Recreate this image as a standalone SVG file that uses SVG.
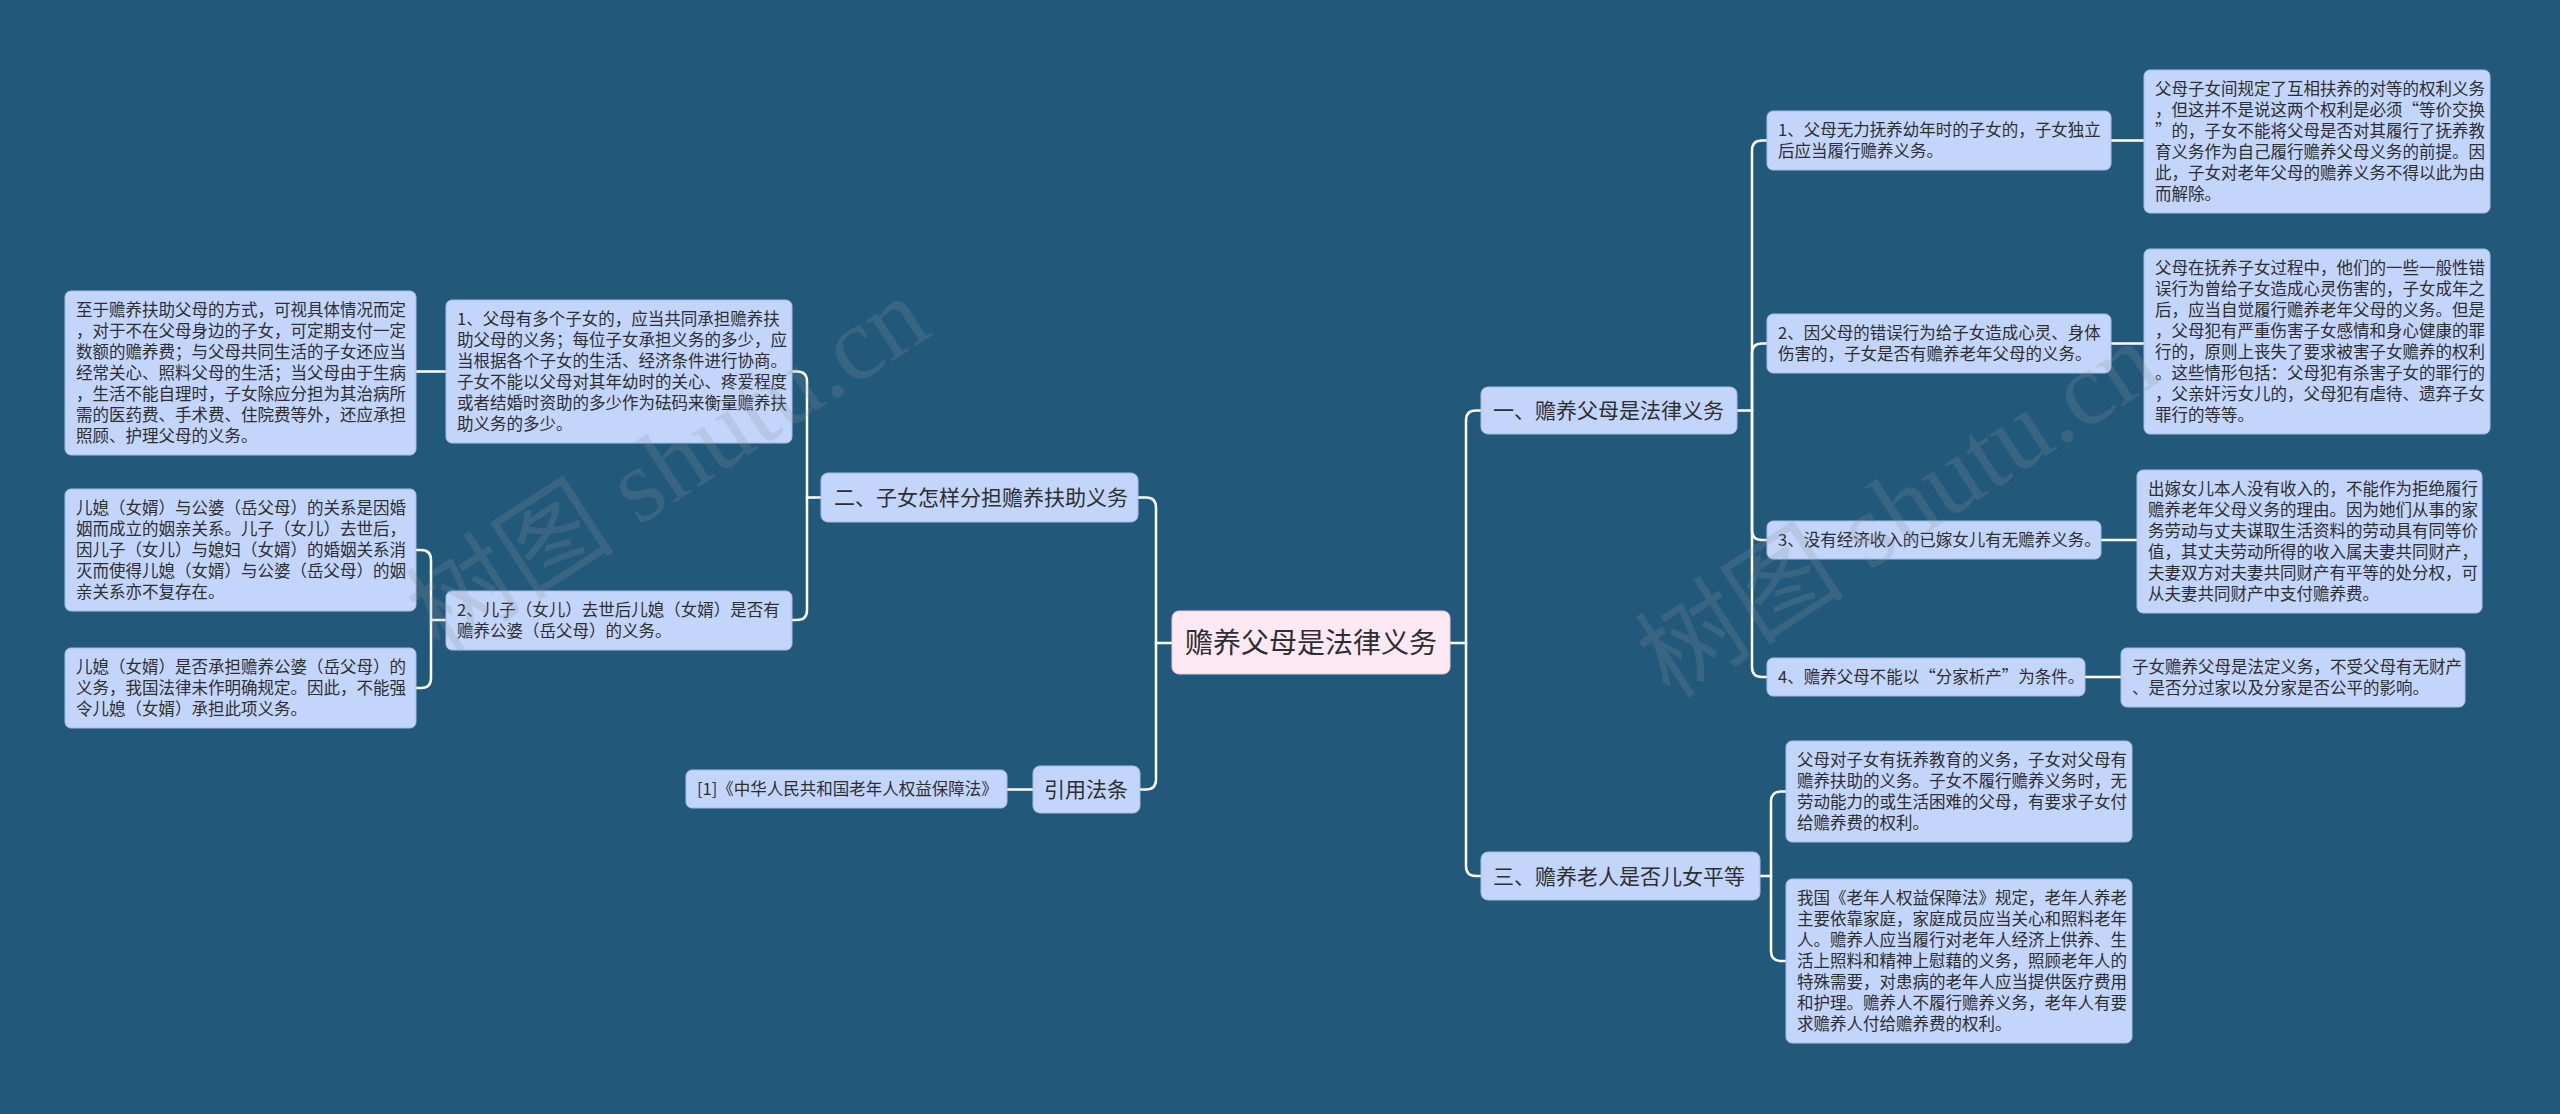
<svg xmlns="http://www.w3.org/2000/svg" width="2560" height="1114" viewBox="0 0 2560 1114">
<style>
.bg{fill:#22587a}
.n rect{fill:#c3d5fa;stroke:#a7bde6;stroke-width:1}
.c rect{fill:#fde9f4;stroke:#e9c9dc;stroke-width:1}
text{font-family:"Noto Sans CJK SC","Noto Sans",sans-serif;fill:#2e2e2e}
.t{font-size:16.5px}
.m{font-size:21px}
.ct{font-size:28px}
.lk path{fill:none;stroke:#ffffff;stroke-width:2.5;stroke-linecap:round}
.wm{font-family:"Liberation Serif","Noto Sans CJK SC",serif;font-size:105px;fill:#8a94a0;fill-opacity:0.22}
</style>
<rect class="bg" x="0" y="0" width="2560" height="1114"/>

<g id="connectors" class="lk">
<path d="M1450,643 H1466"/>
<path d="M1466,643 V420.5 Q1466,410.5 1476,410.5 H1481"/>
<path d="M1466,643 V866 Q1466,876 1476,876 H1481"/>
<path d="M1172,643 H1156"/>
<path d="M1156,643 V507.5 Q1156,497.5 1146,497.5 H1138"/>
<path d="M1156,643 V779.5 Q1156,789.5 1146,789.5 H1140"/>
<path d="M1737,410.5 H1752"/>
<path d="M1752,410.5 V150.5 Q1752,140.5 1762,140.5 H1767"/>
<path d="M1752,410.5 V353.5 Q1752,343.5 1762,343.5 H1767"/>
<path d="M1752,410.5 V530 Q1752,540 1762,540 H1767"/>
<path d="M1752,410.5 V667 Q1752,677 1762,677 H1767"/>
<path d="M2111,140.5 H2144"/>
<path d="M2111,343.5 H2144"/>
<path d="M2101,540 H2137"/>
<path d="M2085,677 H2121"/>
<path d="M1760,876 H1771"/>
<path d="M1771,876 V801.5 Q1771,791.5 1781,791.5 H1786"/>
<path d="M1771,876 V951 Q1771,961 1781,961 H1786"/>
<path d="M821,497.5 H807"/>
<path d="M807,497.5 V381.5 Q807,371.5 797,371.5 H792"/>
<path d="M807,497.5 V610 Q807,620 797,620 H792"/>
<path d="M446,371.5 H416"/>
<path d="M446,620 H431"/>
<path d="M431,620 V560 Q431,550 421,550 H416"/>
<path d="M431,620 V678 Q431,688 421,688 H416"/>
<path d="M1007,789.5 H1033"/>
</g>

<g id="center" class="c">
<rect x="1172" y="611" width="278" height="63" rx="7"/>
<text class="ct" x="1311" y="653" text-anchor="middle">赡养父母是法律义务</text>
</g>

<g id="n-two" class="n">
<rect x="821" y="473" width="317" height="49" rx="7"/>
<text class="m" x="834" y="505">二、子女怎样分担赡养扶助义务</text>
</g>
<g id="n-ref" class="n">
<rect x="1033" y="766" width="107" height="47" rx="7"/>
<text class="m" x="1044" y="797">引用法条</text>
</g>
<g id="n-one" class="n">
<rect x="1481" y="387" width="256" height="47" rx="7"/>
<text class="m" x="1493" y="418">一、赡养父母是法律义务</text>
</g>
<g id="n-three" class="n">
<rect x="1481" y="852" width="279" height="48" rx="7"/>
<text class="m" x="1493" y="884">三、赡养老人是否儿女平等</text>
</g>

<g id="l-a" class="n">
<rect x="65" y="291" width="351" height="164" rx="6"/>
<text class="t"><tspan x="76" y="316">至于赡养扶助父母的方式，可视具体情况而定</tspan><tspan x="76" dy="21">，对于不在父母身边的子女，可定期支付一定</tspan><tspan x="76" dy="21">数额的赡养费；与父母共同生活的子女还应当</tspan><tspan x="76" dy="21">经常关心、照料父母的生活；当父母由于生病</tspan><tspan x="76" dy="21">，生活不能自理时，子女除应分担为其治病所</tspan><tspan x="76" dy="21">需的医药费、手术费、住院费等外，还应承担</tspan><tspan x="76" dy="21">照顾、护理父母的义务。</tspan></text>
</g>
<g id="l-b" class="n">
<rect x="446" y="300" width="346" height="143" rx="6"/>
<text class="t"><tspan x="457" y="325">1、父母有多个子女的，应当共同承担赡养扶</tspan><tspan x="457" dy="21">助父母的义务；每位子女承担义务的多少，应</tspan><tspan x="457" dy="21">当根据各个子女的生活、经济条件进行协商。</tspan><tspan x="457" dy="21">子女不能以父母对其年幼时的关心、疼爱程度</tspan><tspan x="457" dy="21">或者结婚时资助的多少作为砝码来衡量赡养扶</tspan><tspan x="457" dy="21">助义务的多少。</tspan></text>
</g>
<g id="l-c" class="n">
<rect x="65" y="489" width="351" height="122" rx="6"/>
<text class="t"><tspan x="76" y="514">儿媳（女婿）与公婆（岳父母）的关系是因婚</tspan><tspan x="76" dy="21">姻而成立的姻亲关系。儿子（女儿）去世后，</tspan><tspan x="76" dy="21">因儿子（女儿）与媳妇（女婿）的婚姻关系消</tspan><tspan x="76" dy="21">灭而使得儿媳（女婿）与公婆（岳父母）的姻</tspan><tspan x="76" dy="21">亲关系亦不复存在。</tspan></text>
</g>
<g id="l-d" class="n">
<rect x="446" y="591" width="346" height="59" rx="6"/>
<text class="t"><tspan x="457" y="616">2、儿子（女儿）去世后儿媳（女婿）是否有</tspan><tspan x="457" dy="21">赡养公婆（岳父母）的义务。</tspan></text>
</g>
<g id="l-e" class="n">
<rect x="65" y="648" width="351" height="80" rx="6"/>
<text class="t"><tspan x="76" y="673">儿媳（女婿）是否承担赡养公婆（岳父母）的</tspan><tspan x="76" dy="21">义务，我国法律未作明确规定。因此，不能强</tspan><tspan x="76" dy="21">令儿媳（女婿）承担此项义务。</tspan></text>
</g>
<g id="ref-law" class="n">
<rect x="686" y="770" width="321" height="38" rx="6"/>
<text class="t" x="697" y="795">[1]《中华人民共和国老年人权益保障法》</text>
</g>

<g id="a1" class="n">
<rect x="1767" y="111" width="344" height="59" rx="6"/>
<text class="t"><tspan x="1778" y="136">1、父母无力抚养幼年时的子女的，子女独立</tspan><tspan x="1778" dy="21">后应当履行赡养义务。</tspan></text>
</g>
<g id="a2" class="n">
<rect x="1767" y="314" width="344" height="59" rx="6"/>
<text class="t"><tspan x="1778" y="339">2、因父母的错误行为给子女造成心灵、身体</tspan><tspan x="1778" dy="21">伤害的，子女是否有赡养老年父母的义务。</tspan></text>
</g>
<g id="a3" class="n">
<rect x="1767" y="521" width="334" height="38" rx="6"/>
<text class="t" x="1778" y="546">3、没有经济收入的已嫁女儿有无赡养义务。</text>
</g>
<g id="a4" class="n">
<rect x="1767" y="658" width="318" height="38" rx="6"/>
<text class="t" x="1778" y="683">4、赡养父母不能以“分家析产”为条件。</text>
</g>

<g id="b1" class="n">
<rect x="2144" y="70" width="346" height="143" rx="6"/>
<text class="t"><tspan x="2155" y="95">父母子女间规定了互相扶养的对等的权利义务</tspan><tspan x="2155" dy="21">，但这并不是说这两个权利是必须“等价交换</tspan><tspan x="2155" dy="21">”的，子女不能将父母是否对其履行了抚养教</tspan><tspan x="2155" dy="21">育义务作为自己履行赡养父母义务的前提。因</tspan><tspan x="2155" dy="21">此，子女对老年父母的赡养义务不得以此为由</tspan><tspan x="2155" dy="21">而解除。</tspan></text>
</g>
<g id="b2" class="n">
<rect x="2144" y="249" width="346" height="185" rx="6"/>
<text class="t"><tspan x="2155" y="274">父母在抚养子女过程中，他们的一些一般性错</tspan><tspan x="2155" dy="21">误行为曾给子女造成心灵伤害的，子女成年之</tspan><tspan x="2155" dy="21">后，应当自觉履行赡养老年父母的义务。但是</tspan><tspan x="2155" dy="21">，父母犯有严重伤害子女感情和身心健康的罪</tspan><tspan x="2155" dy="21">行的，原则上丧失了要求被害子女赡养的权利</tspan><tspan x="2155" dy="21">。这些情形包括：父母犯有杀害子女的罪行的</tspan><tspan x="2155" dy="21">，父亲奸污女儿的，父母犯有虐待、遗弃子女</tspan><tspan x="2155" dy="21">罪行的等等。</tspan></text>
</g>
<g id="b3" class="n">
<rect x="2137" y="470" width="345" height="143" rx="6"/>
<text class="t"><tspan x="2148" y="495">出嫁女儿本人没有收入的，不能作为拒绝履行</tspan><tspan x="2148" dy="21">赡养老年父母义务的理由。因为她们从事的家</tspan><tspan x="2148" dy="21">务劳动与丈夫谋取生活资料的劳动具有同等价</tspan><tspan x="2148" dy="21">值，其丈夫劳动所得的收入属夫妻共同财产，</tspan><tspan x="2148" dy="21">夫妻双方对夫妻共同财产有平等的处分权，可</tspan><tspan x="2148" dy="21">从夫妻共同财产中支付赡养费。</tspan></text>
</g>
<g id="b4" class="n">
<rect x="2121" y="648" width="344" height="59" rx="6"/>
<text class="t"><tspan x="2132" y="673">子女赡养父母是法定义务，不受父母有无财产</tspan><tspan x="2132" dy="21">、是否分过家以及分家是否公平的影响。</tspan></text>
</g>

<g id="c1" class="n">
<rect x="1786" y="741" width="346" height="101" rx="6"/>
<text class="t"><tspan x="1797" y="766">父母对子女有抚养教育的义务，子女对父母有</tspan><tspan x="1797" dy="21">赡养扶助的义务。子女不履行赡养义务时，无</tspan><tspan x="1797" dy="21">劳动能力的或生活困难的父母，有要求子女付</tspan><tspan x="1797" dy="21">给赡养费的权利。</tspan></text>
</g>
<g id="c2" class="n">
<rect x="1786" y="879" width="346" height="164" rx="6"/>
<text class="t"><tspan x="1797" y="904">我国《老年人权益保障法》规定，老年人养老</tspan><tspan x="1797" dy="21">主要依靠家庭，家庭成员应当关心和照料老年</tspan><tspan x="1797" dy="21">人。赡养人应当履行对老年人经济上供养、生</tspan><tspan x="1797" dy="21">活上照料和精神上慰藉的义务，照顾老年人的</tspan><tspan x="1797" dy="21">特殊需要，对患病的老年人应当提供医疗费用</tspan><tspan x="1797" dy="21">和护理。赡养人不履行赡养义务，老年人有要</tspan><tspan x="1797" dy="21">求赡养人付给赡养费的权利。</tspan></text>
</g>

<g id="watermarks">
<text class="wm" x="440" y="655" transform="rotate(-33 440 655)">树图 shutu.cn</text>
<text class="wm" x="1670" y="700" transform="rotate(-33 1670 700)">树图 shutu.cn</text>
</g>
</svg>
